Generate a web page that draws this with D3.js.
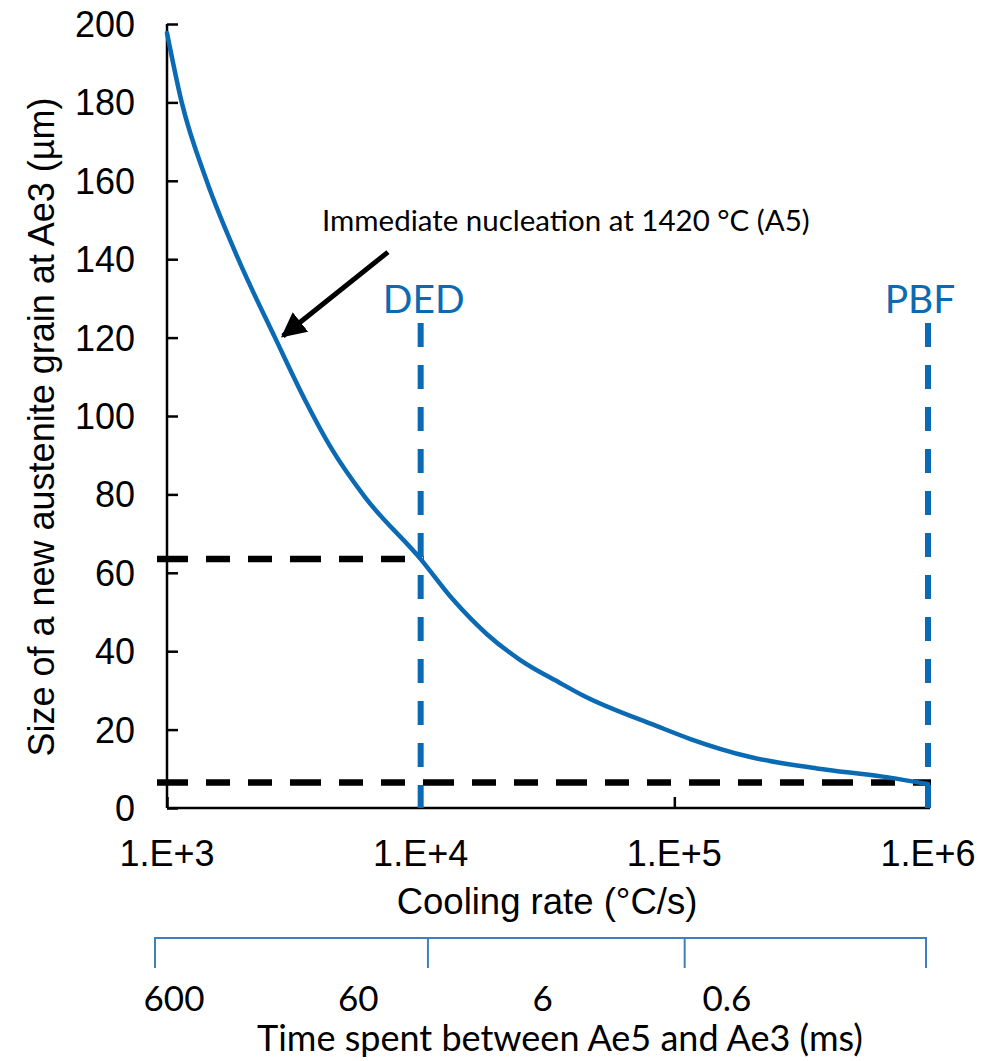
<!DOCTYPE html>
<html>
<head>
<meta charset="utf-8">
<script src="https://cdn.jsdelivr.net/npm/d3@7"></script>
<style>
  html, body { margin: 0; padding: 0; background: #fff; }
  svg { display: block; }
</style>
</head>
<body>
<svg id="chart" width="1007" height="1061"></svg>
<script>
// Austenite grain size at Ae3 versus cooling rate
const coolingRate = [1000, 1143, 1433, 1910, 2666, 3499, 4459, 6031, 10000, 13440, 18200,
                     24630, 35400, 43650, 85350, 115700, 199400, 364800, 664000, 1000000];
const grainSize   = [197.7, 180, 160, 140, 120, 104.1, 91.6, 79.3, 63.5, 53.1, 44.4,
                     37.8, 31.9, 28.7, 20.9, 17.6, 13.0, 10.1, 8.0, 6.1];

const xTicks = [1e3, 1e4, 1e5, 1e6];
const xTickLabels = ["1.E+3", "1.E+4", "1.E+5", "1.E+6"];
const yTicks = [0, 20, 40, 60, 80, 100, 120, 140, 160, 180, 200];

const processNames = ["DED", "PBF"];
const processRates = [1e4, 1e6];
const processGrain = [63.5, 6.5];

// Secondary axis: time spent between Ae5 and Ae3 (ms)
const timeLabels = [600, 60, 6, 0.6];
const timeDividers = [0, 0.354, 0.687, 1];

const blue = "#0b6ab4";
const svg = d3.select("#chart");

const x = d3.scaleLog().domain([1e3, 1e6]).range([167, 928]);
const y = d3.scaleLinear().domain([0, 200]).range([808, 24]);

const arial = "'Liberation Sans', Arial, sans-serif";
const humanist = "Lato, 'Open Sans', sans-serif";

// Y axis
const yAxis = d3.axisRight(y).tickValues(yTicks).tickSize(11).tickFormat("");
const gy = svg.append("g").attr("transform", `translate(${x(1e3)},0)`).call(yAxis);
gy.select(".domain").attr("d", `M0,${y(200)}V${y(0)}`);
gy.selectAll("line, path").attr("stroke", "#000").attr("stroke-width", 2.5);

svg.append("g").selectAll("text").data(yTicks).join("text")
  .attr("x", 135).attr("y", d => y(d)).attr("dy", "0.36em")
  .attr("text-anchor", "end")
  .style("font-family", arial).style("font-size", "36px").attr("fill", "#000")
  .text(d => d);

// X axis
const xAxis = d3.axisTop(x).tickValues(xTicks).tickSize(11).tickFormat("");
const gx = svg.append("g").attr("transform", `translate(0,${y(0)})`).call(xAxis);
gx.select(".domain").attr("d", `M${x(1e3)},0H${x(1e6) + 2}`);
gx.selectAll("line, path").attr("stroke", "#000").attr("stroke-width", 2.5);

svg.append("g").selectAll("text").data(xTicks).join("text")
  .attr("x", d => x(d)).attr("y", 866)
  .attr("text-anchor", "middle")
  .style("font-family", arial).style("font-size", "36px").attr("fill", "#000")
  .text((d, i) => xTickLabels[i]);

svg.append("text")
  .attr("x", 547).attr("y", 914).attr("text-anchor", "middle")
  .style("font-family", arial).style("font-size", "36.5px").attr("fill", "#000")
  .text("Cooling rate (°C/s)");

svg.append("text")
  .attr("transform", "translate(54,427) rotate(-90)")
  .attr("text-anchor", "middle")
  .style("font-family", arial).style("font-size", "36px").attr("fill", "#000")
  .text("Size of a new austenite grain at Ae3 (µm)");

// Black dashed read-off lines
svg.append("g").selectAll("line").data(processRates).join("line")
  .attr("x1", 157).attr("x2", d => x(d) + 3)
  .attr("y1", (d, i) => y(processGrain[i])).attr("y2", (d, i) => y(processGrain[i]))
  .attr("stroke", "#000").attr("stroke-width", 6.5)
  .attr("stroke-dasharray", "31,18,24,18,24,18");

// Blue dashed process lines
svg.append("g").selectAll("line").data(processRates).join("line")
  .attr("x1", d => x(d)).attr("x2", d => x(d))
  .attr("y1", y(123.7)).attr("y2", y(0))
  .attr("stroke", blue).attr("stroke-width", 6)
  .attr("stroke-dasharray", "24,18");

svg.append("g").selectAll("text").data(processNames).join("text")
  .attr("x", (d, i) => x(processRates[i]) + (i === 0 ? 3 : -8))
  .attr("y", y(126.3))
  .attr("text-anchor", "middle")
  .style("font-family", humanist).style("font-size", "39px").attr("fill", blue)
  .text(d => d);

// Grain size curve
const line = d3.line()
  .x((d, i) => x(coolingRate[i]))
  .y(d => y(d))
  .curve(d3.curveMonotoneX);
svg.append("path").datum(grainSize)
  .attr("d", line)
  .attr("fill", "none").attr("stroke", blue).attr("stroke-width", 4.5)
  .attr("stroke-linecap", "round");

// Annotation with arrow
svg.append("defs").append("marker")
  .attr("id", "arrowhead").attr("viewBox", "0 0 10 10")
  .attr("refX", 9).attr("refY", 5)
  .attr("markerWidth", 5).attr("markerHeight", 5)
  .attr("markerUnits", "strokeWidth").attr("orient", "auto")
  .append("path").attr("d", "M0,0L10,5L0,10Z").attr("fill", "#000");

svg.append("line")
  .attr("x1", x(7430)).attr("y1", y(141.8))
  .attr("x2", x(2864)).attr("y2", y(120.4))
  .attr("stroke", "#000").attr("stroke-width", 5)
  .attr("marker-end", "url(#arrowhead)");

svg.append("text")
  .attr("x", x(4083)).attr("y", y(147.3))
  .style("font-family", humanist).style("font-size", "29.5px").attr("fill", "#000")
  .text("Immediate nucleation at 1420 °C (A5)");

// Secondary time axis
const sx = d3.scaleLinear().domain([0, 1]).range([155, 926]);
const tx = d3.scaleLog().domain([600, 0.6]).range([174, 727]);
const gt = svg.append("g");
gt.append("line")
  .attr("x1", sx(0)).attr("x2", sx(1)).attr("y1", 938).attr("y2", 938)
  .attr("stroke", "#3f7fbf").attr("stroke-width", 2);
gt.selectAll(".div").data(timeDividers).join("line")
  .attr("x1", d => sx(d)).attr("x2", d => sx(d))
  .attr("y1", 937).attr("y2", 968)
  .attr("stroke", "#3f7fbf").attr("stroke-width", 2);
gt.selectAll("text").data(timeLabels).join("text")
  .attr("x", d => tx(d)).attr("y", 1011)
  .attr("text-anchor", "middle")
  .style("font-family", humanist).style("font-size", "35px").attr("fill", "#000")
  .text(d => d);
svg.append("text")
  .attr("x", 560).attr("y", 1051).attr("text-anchor", "middle")
  .style("font-family", humanist).style("font-size", "36px").attr("fill", "#000")
  .text("Time spent between Ae5 and Ae3 (ms)");
</script>
</body>
</html>
